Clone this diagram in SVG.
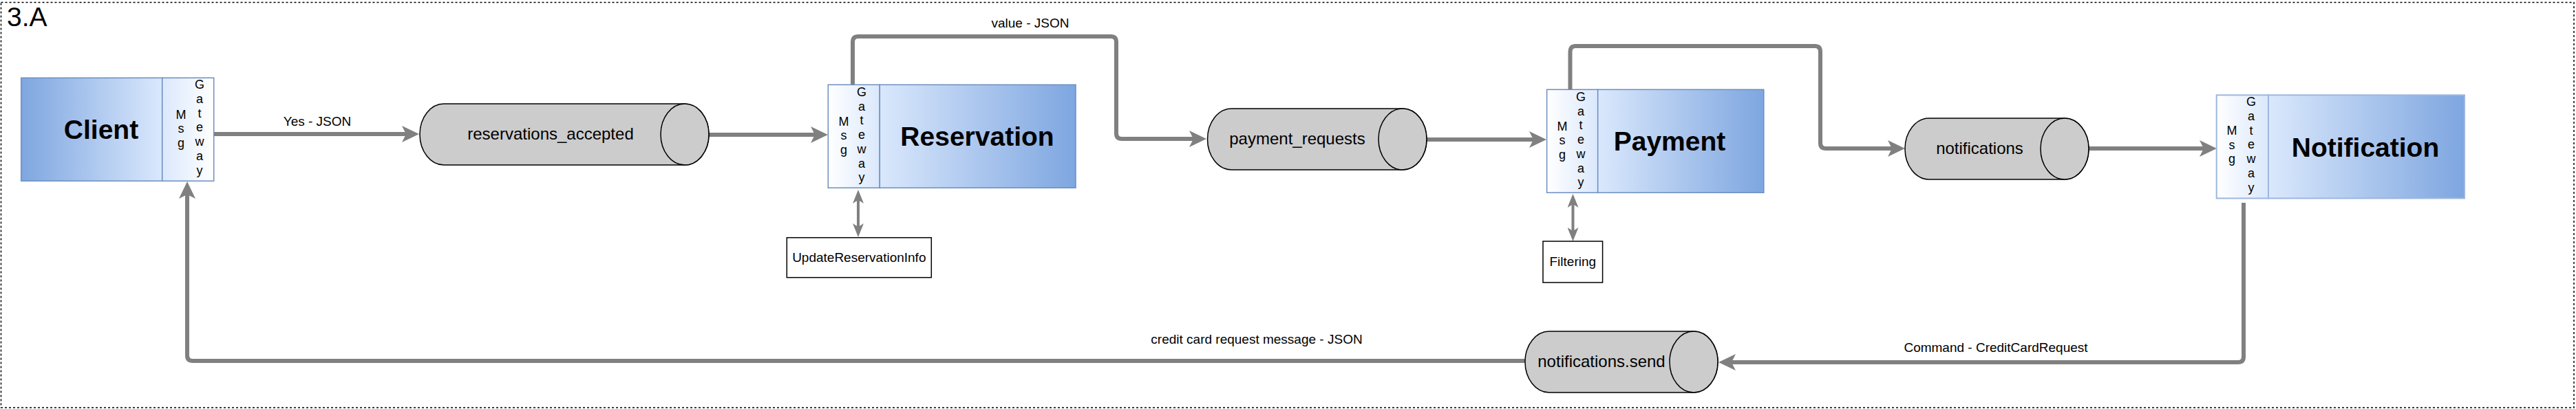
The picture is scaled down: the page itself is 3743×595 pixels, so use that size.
<svg xmlns="http://www.w3.org/2000/svg" width="3743" height="595" viewBox="0 0 3743 595">
<defs>
<style>
text{font-family:"Liberation Sans",Arial,Helvetica,sans-serif;fill:#000}
.title{font-size:39px;font-weight:bold;text-anchor:middle}
.gw{font-size:18px;text-anchor:middle}
.lbl{font-size:19px;text-anchor:middle}
.cyl{font-size:24px;text-anchor:middle}
.cylbody{fill:#cccccc;stroke:#000;stroke-width:1.5}
.box{fill:#fff;stroke:#000;stroke-width:1.5}
.edge{fill:none;stroke:#808080;stroke-width:6}
.edge2{fill:none;stroke:#808080;stroke-width:4}
.frame{fill:none;stroke:#000;stroke-width:1.5;stroke-dasharray:3 3}
</style>
<linearGradient id="mainR" x1="0" y1="0" x2="1" y2="0"><stop offset="0" stop-color="#dae8fc"/><stop offset="1" stop-color="#7ea6e0"/></linearGradient>
<linearGradient id="mainL" x1="0" y1="0" x2="1" y2="0"><stop offset="0" stop-color="#7ea6e0"/><stop offset="1" stop-color="#dae8fc"/></linearGradient>
<linearGradient id="gwR" x1="0" y1="0" x2="1" y2="0"><stop offset="0" stop-color="#ffffff"/><stop offset="1" stop-color="#dae8fc"/></linearGradient>
<linearGradient id="gwL" x1="0" y1="0" x2="1" y2="0"><stop offset="0" stop-color="#dae8fc"/><stop offset="1" stop-color="#ffffff"/></linearGradient>
<marker id="arr" markerUnits="userSpaceOnUse" viewBox="0 -12 25 24" refX="15" refY="0" markerWidth="25" markerHeight="24" orient="auto">
<path d="M25,0 L0,-12 L6,0 L0,12 Z" fill="#808080"/>
</marker>
<marker id="arrS" markerUnits="userSpaceOnUse" viewBox="0 -8 20 16" refX="12" refY="0" markerWidth="20" markerHeight="16" orient="auto-start-reverse">
<path d="M20,0 L0,-8 L5,0 L0,8 Z" fill="#808080"/>
</marker>
</defs>

<rect class="frame" x="1.5" y="3.5" width="3738.5" height="589.5"/>
<text x="10" y="38" style="font-size:39px">3.A</text>

<g id="connectors">
<path class="edge" d="M310,195 H599" marker-end="url(#arr)"/>
<text class="lbl" x="461" y="183">Yes - JSON</text>
<path class="edge" d="M1030,196 H1193" marker-end="url(#arr)"/>
<path class="edge" d="M1239,123 V61 Q1239,53 1247,53 H1614 Q1622,53 1622,61 V194 Q1622,202 1630,202 H1743" marker-end="url(#arr)"/>
<text class="lbl" x="1497" y="40">value - JSON</text>
<path class="edge" d="M2073,203 H2237" marker-end="url(#arr)"/>
<path class="edge" d="M2281.5,130 V75 Q2281.5,67 2289.5,67 H2637 Q2645,67 2645,75 V208 Q2645,216 2653,216 H2758" marker-end="url(#arr)"/>
<path class="edge" d="M3035,216 H3211" marker-end="url(#arr)"/>
<path class="edge" d="M3260,295 V519 Q3260,527 3252,527 H2507" marker-end="url(#arr)"/>
<text class="lbl" x="2900" y="512">Command - CreditCardRequest</text>
<path class="edge" d="M2216,525 H280 Q272,525 272,517 V274" marker-end="url(#arr)"/>
<text class="lbl" x="1826" y="500">credit card request message - JSON</text>
<path class="edge2" d="M1247,284 V337" marker-start="url(#arrS)" marker-end="url(#arrS)"/>
<path class="edge2" d="M2285.5,290 V343" marker-start="url(#arrS)" marker-end="url(#arrS)"/>
</g>

<g id="client">
<rect x="30.7" y="113.3" width="205" height="150" fill="url(#mainL)" stroke="#6c8ebf" stroke-width="1.5"/>
<rect x="235.7" y="113.3" width="75" height="150" fill="url(#gwL)" stroke="#6c8ebf" stroke-width="1.5"/>
<text class="title" x="147" y="201.7">Client</text>
<text class="gw"><tspan x="263" y="172.7">M</tspan><tspan x="263" y="193.4">s</tspan><tspan x="263" y="214.1">g</tspan></text>
<text class="gw"><tspan x="290" y="129.3">G</tspan><tspan x="290" y="150">a</tspan><tspan x="290" y="170.7">t</tspan><tspan x="290" y="191.4">e</tspan><tspan x="290" y="212.1">w</tspan><tspan x="290" y="232.8">a</tspan><tspan x="290" y="253.5">y</tspan></text>
</g>

<g id="reservations_accepted">
<path class="cylbody" d="M645,151 H995 A35,44.5 0 0 1 995,240 H645 A35,44.5 0 0 1 645,151 Z"/>
<ellipse class="cylbody" cx="995" cy="195.5" rx="35" ry="44.5"/>
<text class="cyl" x="800" y="203">reservations_accepted</text>
</g>

<g id="reservation">
<rect x="1203.3" y="123.3" width="75" height="150" fill="url(#gwR)" stroke="#6c8ebf" stroke-width="1.5"/>
<rect x="1278.3" y="123.3" width="284.7" height="150" fill="url(#mainR)" stroke="#6c8ebf" stroke-width="1.5"/>
<text class="title" x="1420" y="212">Reservation</text>
<text class="gw"><tspan x="1226" y="182.7">M</tspan><tspan x="1226" y="203.4">s</tspan><tspan x="1226" y="224.1">g</tspan></text>
<text class="gw"><tspan x="1252" y="140">G</tspan><tspan x="1252" y="160.7">a</tspan><tspan x="1252" y="181.4">t</tspan><tspan x="1252" y="202.1">e</tspan><tspan x="1252" y="222.8">w</tspan><tspan x="1252" y="243.5">a</tspan><tspan x="1252" y="264.2">y</tspan></text>
</g>

<g id="update_reservation_info">
<rect class="box" x="1143.3" y="345.7" width="210" height="58"/>
<text class="lbl" x="1248.3" y="381">UpdateReservationInfo</text>
</g>

<g id="payment_requests">
<path class="cylbody" d="M1789.5,158 H2038 A35,44.5 0 0 1 2038,247 H1789.5 A35,44.5 0 0 1 1789.5,158 Z"/>
<ellipse class="cylbody" cx="2038" cy="202.5" rx="35" ry="44.5"/>
<text class="cyl" x="1885" y="210">payment_requests</text>
</g>

<g id="payment">
<rect x="2247.6" y="130.3" width="74.1" height="150" fill="url(#gwR)" stroke="#6c8ebf" stroke-width="1.5"/>
<rect x="2321.7" y="130.3" width="241.1" height="150" fill="url(#mainR)" stroke="#6c8ebf" stroke-width="1.5"/>
<text class="title" x="2426" y="219">Payment</text>
<text class="gw"><tspan x="2270" y="189.5">M</tspan><tspan x="2270" y="210.2">s</tspan><tspan x="2270" y="230.9">g</tspan></text>
<text class="gw"><tspan x="2297" y="147">G</tspan><tspan x="2297" y="167.7">a</tspan><tspan x="2297" y="188.4">t</tspan><tspan x="2297" y="209.1">e</tspan><tspan x="2297" y="229.8">w</tspan><tspan x="2297" y="250.5">a</tspan><tspan x="2297" y="271.2">y</tspan></text>
</g>

<g id="filtering">
<rect class="box" x="2242" y="351" width="86.6" height="60"/>
<text class="lbl" x="2285.3" y="387">Filtering</text>
</g>

<g id="notifications">
<path class="cylbody" d="M2803,172 H3000 A35,44.5 0 0 1 3000,261 H2803 A35,44.5 0 0 1 2803,172 Z"/>
<ellipse class="cylbody" cx="3000" cy="216.5" rx="35" ry="44.5"/>
<text class="cyl" x="2876.5" y="224">notifications</text>
</g>

<g id="notification">
<rect x="3220.7" y="138.3" width="75.3" height="150.2" fill="url(#gwR)" stroke="#9db7df" stroke-width="2"/>
<rect x="3296" y="138.3" width="285" height="150.2" fill="url(#mainR)" stroke="#9db7df" stroke-width="2"/>
<text class="title" x="3437" y="228">Notification</text>
<text class="gw"><tspan x="3243" y="196">M</tspan><tspan x="3243" y="216.7">s</tspan><tspan x="3243" y="237.4">g</tspan></text>
<text class="gw"><tspan x="3271" y="154.3">G</tspan><tspan x="3271" y="175">a</tspan><tspan x="3271" y="195.7">t</tspan><tspan x="3271" y="216.4">e</tspan><tspan x="3271" y="237.1">w</tspan><tspan x="3271" y="257.8">a</tspan><tspan x="3271" y="278.5">y</tspan></text>
</g>

<g id="notifications_send">
<path class="cylbody" d="M2251,482 H2461 A35,44.5 0 0 1 2461,571 H2251 A35,44.5 0 0 1 2251,482 Z"/>
<ellipse class="cylbody" cx="2461" cy="526.5" rx="35" ry="44.5"/>
<text class="cyl" x="2327" y="534">notifications.send</text>
</g>
</svg>
